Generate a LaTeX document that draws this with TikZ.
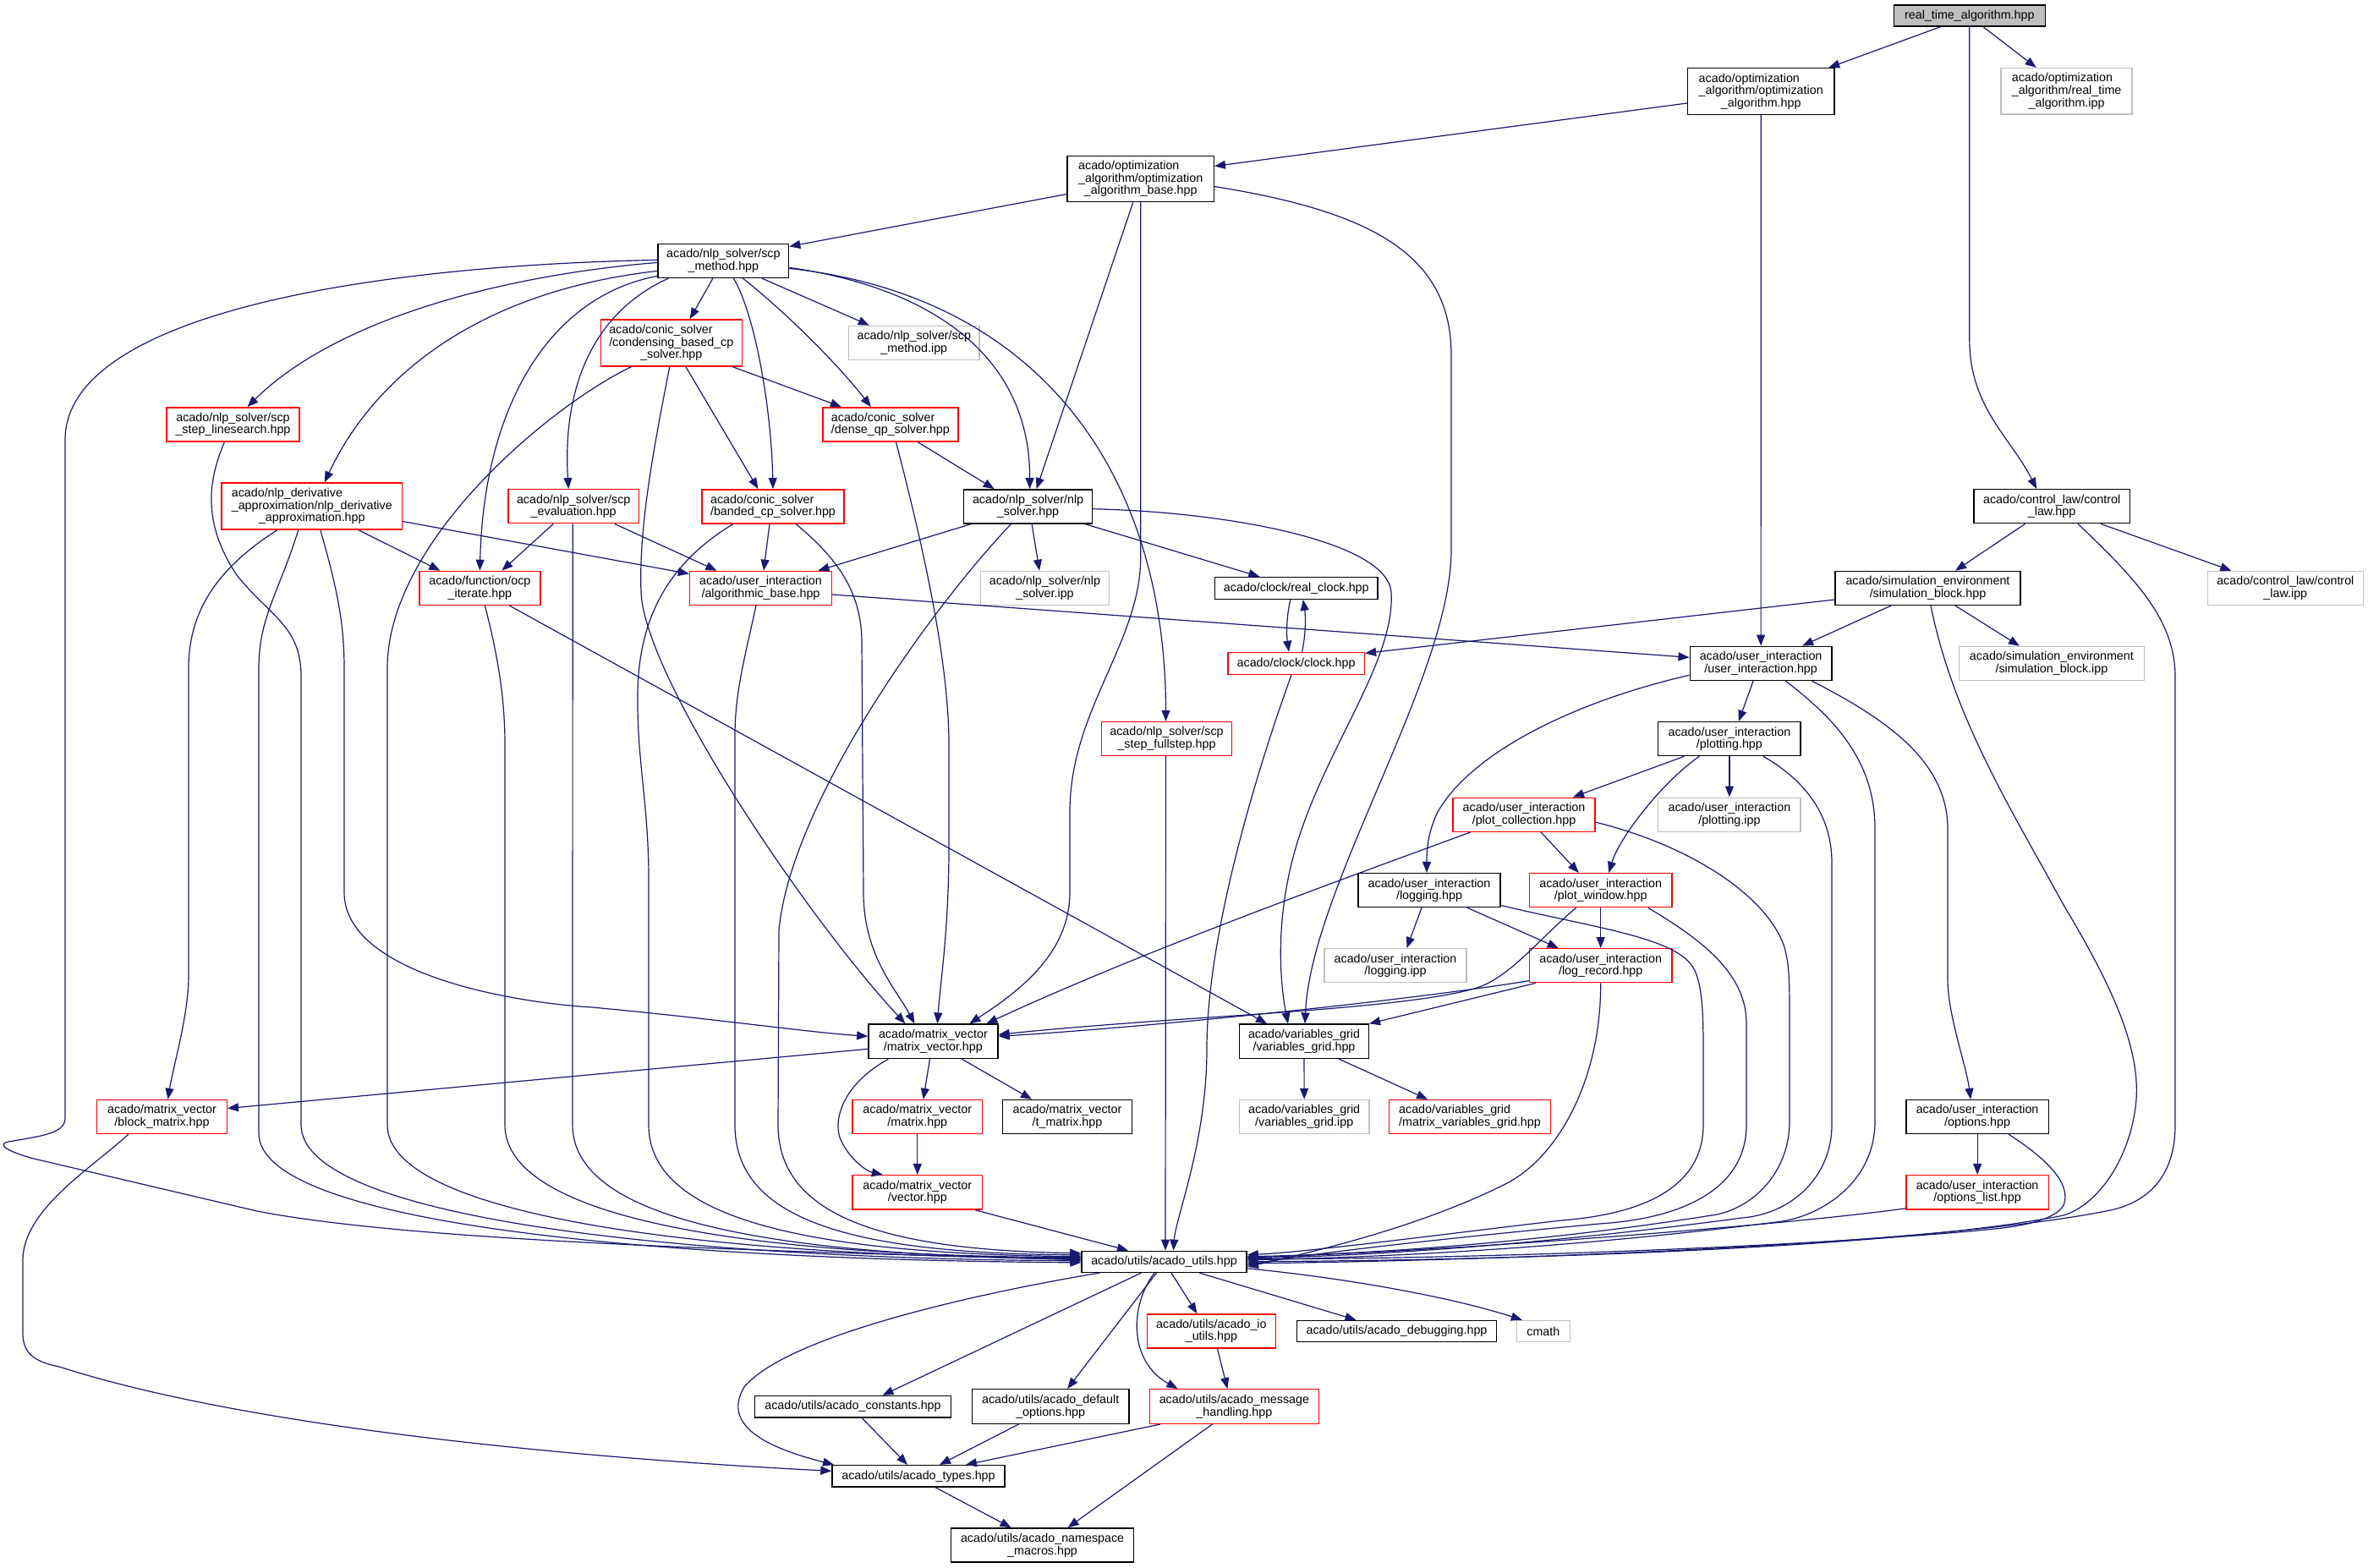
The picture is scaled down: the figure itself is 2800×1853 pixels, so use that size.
\documentclass[tikz,border=0pt]{standalone}
\usepackage{fontspec}
\newfontfamily\dxf{Liberation Sans}
\usetikzlibrary{arrows.meta}
\definecolor{edgec}{RGB}{25,25,112}
\definecolor{gry}{RGB}{191,191,191}
\newcommand\dxfont{\dxf\fontsize{14.3}{14.6}\selectfont}
\newcommand\lftl[2]{\setbox0=\hbox{#2}\makebox[\wd0][l]{#1}\\#2}
\begin{document}
\begin{tikzpicture}[x=1pt,y=-1pt,
  nb/.style={rectangle, inner sep=0pt, line width=1.4pt, font=\dxfont, align=center, fill=white},
  bk/.style={nb, draw=black},
  rd/.style={nb, draw=red},
  gy/.style={nb, draw=gry},
  edg/.style={draw=edgec, line width=1.2pt, -{Triangle[length=13pt,width=10pt]}},
]
\fill[white] (0,0) rectangle (2800,1853);
\useasboundingbox (0,0) rectangle (2800,1853);

% ---------------- nodes ----------------
\node[bk, fill=gry, minimum width=179pt, minimum height=25pt] (rt) at (2328.8,18.4) {real\_time\_algorithm.hpp};
\node[bk, minimum width=173.3pt, minimum height=54.5pt] (oa) at (2082.2,108) {\lftl{acado/optimization}{\_algorithm/optimization}\\\_algorithm.hpp};
\node[gy, minimum width=155pt, minimum height=54.5pt] (rtipp) at (2443.6,107.8) {\lftl{acado/optimization}{\_algorithm/real\_time}\\\_algorithm.ipp};
\node[bk, minimum width=173.2pt, minimum height=54.5pt] (oab) at (1348.7,211.5) {\lftl{acado/optimization}{\_algorithm/optimization}\\\_algorithm\_base.hpp};
\node[bk, minimum width=154.5pt, minimum height=40pt] (scp) at (855.4,308.4) {acado/nlp\_solver/scp\\\_method.hpp};
\node[rd, minimum width=167pt, minimum height=55pt] (cond) at (793.8,405.3) {\lftl{acado/conic\_solver}{/condensing\_based\_cp}\\\_solver.hpp};
\node[gy, minimum width=154.4pt, minimum height=40pt] (scpipp) at (1080.8,405.3) {acado/nlp\_solver/scp\\\_method.ipp};
\node[rd, minimum width=157pt, minimum height=40pt] (ls) at (275.5,501.8) {acado/nlp\_solver/scp\\\_step\_linesearch.hpp};
\node[rd, minimum width=160pt, minimum height=40pt] (dqp) at (1052.9,501.8) {\lftl{acado/conic\_solver}{/dense\_qp\_solver.hpp}};
\node[rd, minimum width=213.3pt, minimum height=55pt] (nd) at (368.8,598.5) {\lftl{acado/nlp\_derivative}{\_approximation/nlp\_derivative}\\\_approximation.hpp};
\node[rd, minimum width=154.5pt, minimum height=40pt] (seval) at (678.2,598.7) {acado/nlp\_solver/scp\\\_evaluation.hpp};
\node[rd, minimum width=168.3pt, minimum height=40pt] (bcp) at (914,598.8) {\lftl{acado/conic\_solver}{/banded\_cp\_solver.hpp}};
\node[bk, minimum width=151.8pt, minimum height=40pt] (nlp) at (1215.6,598.8) {acado/nlp\_solver/nlp\\\_solver.hpp};
\node[bk, minimum width=184.4pt, minimum height=40pt] (cl) at (2426.1,598.7) {acado/control\_law/control\\\_law.hpp};
\node[rd, minimum width=142.8pt, minimum height=40pt] (ocp) at (567.4,695.4) {acado/function/ocp\\\_iterate.hpp};
\node[rd, minimum width=168pt, minimum height=40pt] (ab) at (899.5,695.4) {acado/user\_interaction\\/algorithmic\_base.hpp};
\node[gy, minimum width=152.2pt, minimum height=40pt] (nlpipp) at (1235.5,695.4) {acado/nlp\_solver/nlp\\\_solver.ipp};
\node[bk, minimum width=192.4pt, minimum height=25.7pt] (rc) at (1532.8,695.4) {acado/clock/real\_clock.hpp};
\node[bk, minimum width=218.7pt, minimum height=40pt] (sb) at (2279.5,695.4) {acado/simulation\_environment\\/simulation\_block.hpp};
\node[gy, minimum width=184pt, minimum height=40pt] (clipp) at (2702.3,695.4) {acado/control\_law/control\\\_law.ipp};
\node[rd, minimum width=161.6pt, minimum height=26pt] (clk) at (1532.6,784.4) {acado/clock/clock.hpp};
\node[bk, minimum width=167.8pt, minimum height=40pt] (ui) at (2082.1,784.3) {acado/user\_interaction\\/user\_interaction.hpp};
\node[gy, minimum width=218.8pt, minimum height=40pt] (sbipp) at (2425.9,784.5) {acado/simulation\_environment\\/simulation\_block.ipp};
\node[rd, minimum width=154.5pt, minimum height=40pt] (fs) at (1379.5,873.5) {acado/nlp\_solver/scp\\\_step\_fullstep.hpp};
\node[bk, minimum width=168.3pt, minimum height=40pt] (plt) at (2044.9,873.6) {acado/user\_interaction\\/plotting.hpp};
\node[rd, minimum width=168.3pt, minimum height=40pt] (pc) at (1802,963.2) {acado/user\_interaction\\/plot\_collection.hpp};
\node[gy, minimum width=168.3pt, minimum height=40pt] (pltipp) at (2044.9,963.2) {acado/user\_interaction\\/plotting.ipp};
\node[bk, minimum width=168.3pt, minimum height=40pt] (log) at (1690,1052.6) {acado/user\_interaction\\/logging.hpp};
\node[rd, minimum width=168.3pt, minimum height=40pt] (pw) at (1892.7,1052.6) {acado/user\_interaction\\/plot\_window.hpp};
\node[gy, minimum width=167.8pt, minimum height=40pt] (logipp) at (1650,1141.7) {acado/user\_interaction\\/logging.ipp};
\node[rd, minimum width=168.3pt, minimum height=40pt] (lr) at (1892.7,1141.7) {acado/user\_interaction\\/log\_record.hpp};
\node[bk, minimum width=153.1pt, minimum height=40.5pt] (mv) at (1103.4,1231.3) {acado/matrix\_vector\\/matrix\_vector.hpp};
\node[bk, minimum width=152.7pt, minimum height=40.3pt] (vg) at (1542,1231.2) {acado/variables\_grid\\/variables\_grid.hpp};
\node[rd, minimum width=153.6pt, minimum height=40pt] (bm) at (191.5,1320.5) {acado/matrix\_vector\\/block\_matrix.hpp};
\node[rd, minimum width=153.6pt, minimum height=40pt] (mat) at (1084.8,1320.5) {acado/matrix\_vector\\/matrix.hpp};
\node[bk, minimum width=153.5pt, minimum height=40pt] (tmat) at (1262,1320.5) {acado/matrix\_vector\\/t\_matrix.hpp};
\node[gy, minimum width=153.2pt, minimum height=40pt] (vgipp) at (1542.2,1320.5) {acado/variables\_grid\\/variables\_grid.ipp};
\node[rd, minimum width=191.1pt, minimum height=40pt] (mvg) at (1738,1320.5) {\lftl{acado/variables\_grid}{/matrix\_variables\_grid.hpp}};
\node[bk, minimum width=168.3pt, minimum height=40pt] (opt) at (2338.1,1320.5) {acado/user\_interaction\\/options.hpp};
\node[rd, minimum width=153.6pt, minimum height=40.3pt] (vec) at (1084.8,1409.8) {acado/matrix\_vector\\/vector.hpp};
\node[rd, minimum width=168.3pt, minimum height=40.3pt] (optl) at (2338.1,1409.8) {acado/user\_interaction\\/options\_list.hpp};
\node[bk, minimum width=195pt, minimum height=25pt] (utils) at (1376.5,1491.8) {acado/utils/acado\_utils.hpp};
\node[rd, minimum width=152.2pt, minimum height=40pt] (io) at (1432.4,1573.9) {acado/utils/acado\_io\\\_utils.hpp};
\node[bk, minimum width=236pt, minimum height=25pt] (dbg) at (1651.5,1573.9) {acado/utils/acado\_debugging.hpp};
\node[gy, minimum width=63pt, minimum height=25pt] (cmath) at (1824.8,1573.9) {cmath};
\node[bk, minimum width=232.2pt, minimum height=25.4pt] (const) at (1008.5,1663.2) {acado/utils/acado\_constants.hpp};
\node[bk, minimum width=185.2pt, minimum height=40.6pt] (dopt) at (1242.2,1663) {acado/utils/acado\_default\\\_options.hpp};
\node[rd, minimum width=200pt, minimum height=40.6pt] (mh) at (1459.4,1663) {acado/utils/acado\_message\\\_handling.hpp};
\node[bk, minimum width=204pt, minimum height=25.4pt] (types) at (1086,1745.3) {acado/utils/acado\_types.hpp};
\node[bk, minimum width=216pt, minimum height=40.2pt] (ns) at (1232.6,1827) {acado/utils/acado\_namespace\\\_macros.hpp};

% ---------------- edges ----------------
% real_time_algorithm
\draw[edg] ([xshift=-34pt]rt.south) -- ([xshift=80pt]oa.north);
\draw[edg] ([xshift=16pt]rt.south) -- ([xshift=-36pt]rtipp.north);
\draw[edg] (rt.south) -- ++(0,370) .. controls +(0,80) and +(-30,-60) .. ([xshift=-18pt]cl.north);
% optimization_algorithm
\draw[edg] ([yshift=-14pt]oa.west) -- ([yshift=15pt]oab.east);
\draw[edg] (oa) -- (ui);
% optimization_algorithm_base
\draw[edg] ([yshift=-18pt]oab.west) -- ([yshift=17pt]scp.east);
\draw[edg] ([xshift=-9pt]oab.south) -- ([xshift=10pt]nlp.north);
\draw[edg] (oab.south) -- ++(0,420) .. controls +(0,100) and (1265,840) .. (1265,960) -- (1265,1055) .. controls (1265,1130) and (1200,1175) .. ([xshift=43pt]mv.north);
\draw[edg] ([yshift=-9pt]oab.east) .. controls (1620,250) and (1716,300) .. (1716,420) -- (1716,650) .. controls (1716,800) and (1550,1050) .. ([xshift=1pt]vg.north);
% scp_method
\draw[edg] ([yshift=-2pt]scp.west) .. controls (600,325) and (400,375) .. ([xshift=17pt]ls.north);
\draw[edg] ([yshift=-12pt]scp.west) .. controls (560,345) and (440,450) .. ([xshift=15pt]nd.north);
\draw[edg] ([yshift=-18pt]scp.west) .. controls (650,350) and (572,480) .. (ocp.north);
\draw[edg] ([xshift=-65pt]scp.south) .. controls (700,370) and (665,460) .. ([xshift=-6pt]seval.north);
\draw[edg] ([xshift=-12.5pt]scp.south) -- ([xshift=22pt]cond.north);
\draw[edg] ([xshift=12pt]scp.south) .. controls (892,370) and (912,480) .. (bcp.north);
\draw[edg] ([xshift=23pt]scp.south) .. controls (930,370) and (990,430) .. ([xshift=-23pt]dqp.north);
\draw[edg] ([xshift=45.5pt]scp.south) -- ([xshift=-53pt]scpipp.north);
\draw[edg] ([yshift=-8pt]scp.east) .. controls (1100,340) and (1218,420) .. ([xshift=2pt]nlp.north);
\draw[edg] ([yshift=-9pt]scp.east) .. controls (1230,350) and (1378,560) .. ([xshift=-1pt]fs.north);
\draw[edg] ([yshift=1pt]scp.west) .. controls (400,315) and (77,380) .. (77,520) -- (77,1322) .. controls (77,1340) and (50,1343) .. (10,1350) .. controls (-5,1353) and (10,1362) .. (40,1370) -- (304,1432) .. controls (500,1470) and (950,1480) .. ([yshift=2pt]utils.west);
% linesearch
\draw[edg] ([xshift=-10pt]ls.south) .. controls (245,570) and (240,620) .. (280,680) .. controls (320,730) and (356,740) .. (356,800) -- (356,1330) .. controls (356,1440) and (800,1488) .. ([yshift=1pt]utils.west);
% nlp_derivative_approximation
\draw[edg] ([xshift=-16pt]nd.south) .. controls (330,700) and (306,730) .. (306,790) -- (306,1340) .. controls (306,1450) and (800,1490) .. ([yshift=-1pt]utils.west);
\draw[edg] ([xshift=-41pt]nd.south) .. controls (260,670) and (223,720) .. (223,790) -- (223,1154) .. controls (223,1200) and (205,1260) .. ([xshift=7pt]bm.north);
\draw[edg] ([xshift=10pt]nd.south) .. controls (400,700) and (407,740) .. (407,790) -- (407,1055) .. controls (407,1150) and (600,1185) .. (700,1191) .. controls (850,1205) and (950,1220) .. ([yshift=6pt]mv.west);
\draw[edg] ([xshift=55pt]nd.south) -- ([xshift=-47pt]ocp.north);
\draw[edg] ([yshift=-18pt]nd.east) -- ([yshift=17pt]ab.west);
% scp_evaluation
\draw[edg] ([xshift=-24pt]seval.south) -- ([xshift=26pt]ocp.north);
\draw[edg] ([xshift=48.5pt]seval.south) -- ([xshift=-52pt]ab.north);
\draw[edg] ([xshift=-1pt]seval.south) -- (677,1330) .. controls (677,1440) and (900,1484) .. ([yshift=3pt]utils.west);
% condensing
\draw[edg] ([xshift=-47pt]cond.south) .. controls (650,480) and (458,640) .. (458,790) -- (458,1330) .. controls (458,1440) and (850,1486) .. ([yshift=4pt]utils.west);
\draw[edg] ([xshift=-2pt]cond.south) .. controls (775,520) and (755,620) .. (758,700) .. controls (762,800) and (950,1080) .. ([xshift=-33pt]mv.north);
\draw[edg] ([xshift=72pt]cond.south) -- ([xshift=-58pt]dqp.north);
\draw[edg] ([xshift=17pt]cond.south) -- ([xshift=-17.6pt]bcp.north);
% banded
\draw[edg] ([xshift=-4pt]bcp.south) -- ([xshift=3.5pt]ab.north);
\draw[edg] ([xshift=-47pt]bcp.south) .. controls (800,660) and (755,720) .. (754,820) .. controls (753,900) and (767,950) .. (767,1040) -- (767,1330) .. controls (767,1440) and (950,1482) .. ([yshift=6pt]utils.west);
\draw[edg] ([xshift=27pt]bcp.south) .. controls (990,660) and (1019,700) .. (1019,760) -- (1021,1055) .. controls (1021,1130) and (1060,1170) .. ([xshift=-22pt]mv.north);
% dense_qp
\draw[edg] ([xshift=32pt]dqp.south) -- ([xshift=-40pt]nlp.north);
\draw[edg] ([xshift=6.5pt]dqp.south) .. controls (1090,640) and (1122,780) .. (1122,880) -- (1122,1000) .. controls (1122,1100) and (1112,1160) .. ([xshift=5pt]mv.north);
% ocp_iterate
\draw[edg] ([xshift=6pt]ocp.south) .. controls (590,780) and (597,830) .. (597,880) -- (597,1330) .. controls (597,1440) and (880,1485) .. ([yshift=5pt]utils.west);
\draw[edg] ([xshift=35pt]ocp.south) -- ([xshift=-44pt]vg.north);
% algorithmic_base
\draw[edg] ([yshift=-7.6pt]ab.east) -- ([yshift=7pt]ui.west);
\draw[edg] ([xshift=-5.5pt]ab.south) .. controls (880,780) and (869,820) .. (869,870) -- (869,1330) .. controls (869,1440) and (1000,1482) .. ([yshift=8pt]utils.west);
% nlp_solver
\draw[edg] ([xshift=-67pt]nlp.south) -- ([xshift=68pt]ab.north);
\draw[edg] ([xshift=4.5pt]nlp.south) -- ([xshift=-6.5pt]nlpipp.north);
\draw[edg] ([xshift=67pt]nlp.south) -- ([xshift=-43.5pt]rc.north);
\draw[edg] ([yshift=-3pt]nlp.east) .. controls (1450,605) and (1640,640) .. (1645,700) .. controls (1650,780) and (1570,880) .. (1534,996) .. controls (1505,1090) and (1515,1170) .. ([xshift=-19pt]vg.north);
\draw[edg] ([xshift=-20pt]nlp.south) .. controls (1100,720) and (935,950) .. (921,1100) -- (920,1330) .. controls (920,1440) and (1050,1478) .. ([yshift=10pt]utils.west);
% clocks
\draw[edg] ([xshift=-7pt]rc.south) .. controls (1521,730) and (1521,750) .. ([xshift=-8.6pt]clk.north);
\draw[edg] ([xshift=7pt]clk.north) .. controls (1544,750) and (1544,730) .. ([xshift=8pt]rc.south);
\draw[edg] ([xshift=-5.6pt]clk.south) .. controls (1490,900) and (1427,1100) .. (1427,1240) .. controls (1427,1350) and (1390,1440) .. ([xshift=11pt]utils.north);
% control_law
\draw[edg] ([xshift=-31.5pt]cl.south) -- ([xshift=32.6pt]sb.north);
\draw[edg] ([xshift=58pt]cl.south) -- ([xshift=-64pt]clipp.north);
\draw[edg] ([xshift=31pt]cl.south) .. controls (2520,680) and (2572,730) .. (2572,800) -- (2572,1330) .. controls (2572,1400) and (2530,1425) .. (2490,1432) .. controls (2300,1470) and (1800,1490) .. ([yshift=-2pt]utils.east);
% simulation_block
\draw[edg] ([yshift=-13.6pt]sb.west) -- ([yshift=12pt]clk.east);
\draw[edg] ([xshift=-43.5pt]sb.south) -- ([xshift=49pt]ui.north);
\draw[edg] ([xshift=32.5pt]sb.south) -- ([xshift=-38pt]sbipp.north);
\draw[edg] ([xshift=3.5pt]sb.south) .. controls (2310,850) and (2380,960) .. (2440,1070) .. controls (2500,1170) and (2530,1240) .. (2526,1300) .. controls (2520,1370) and (2480,1425) .. (2440,1437) .. controls (2250,1475) and (1800,1490) .. (utils.east);
% user_interaction
\draw[edg] ([xshift=-9pt]ui.south) -- ([xshift=11pt]plt.north);
\draw[edg] ([yshift=-14pt]ui.west) .. controls (1860,830) and (1740,890) .. (1700,960) .. controls (1688,985) and (1687,1005) .. ([xshift=-3pt]log.north);
\draw[edg] ([xshift=29pt]ui.south) .. controls (2170,850) and (2217,900) .. (2217,980) -- (2217,1326) .. controls (2217,1400) and (2150,1440) .. (2100,1445) .. controls (1900,1470) and (1700,1485) .. ([yshift=2pt]utils.east);
\draw[edg] ([xshift=60pt]ui.south) .. controls (2230,850) and (2303,900) .. (2303,980) -- (2303,1158) .. controls (2303,1200) and (2325,1260) .. ([xshift=-8pt]opt.north);
% plotting
\draw[edg] ([xshift=-53.4pt]plt.south) -- ([xshift=58pt]pc.north);
\draw[edg] (plt) -- (pltipp);
\draw[edg] ([xshift=-35.5pt]plt.south) .. controls (1965,925) and (1915,990) .. ([xshift=9.5pt]pw.north);
\draw[edg] ([xshift=40pt]plt.south) .. controls (2130,920) and (2166,960) .. (2166,1020) -- (2166,1330) .. controls (2166,1390) and (2120,1435) .. (2060,1440) .. controls (1850,1468) and (1650,1484) .. ([yshift=4pt]utils.east);
% plot_collection
\draw[edg] ([xshift=20pt]pc.south) -- ([xshift=-26pt]pw.north);
\draw[edg] ([xshift=-63pt]pc.south) .. controls (1600,1035) and (1350,1125) .. ([xshift=63pt]mv.north);
\draw[edg] ([yshift=-9pt]pc.east) .. controls (2000,1000) and (2090,1060) .. (2110,1120) .. controls (2115,1140) and (2116,1150) .. (2116,1200) -- (2116,1326) .. controls (2116,1380) and (2080,1425) .. (2030,1436) .. controls (1850,1465) and (1650,1482) .. ([yshift=6pt]utils.east);
% logging
\draw[edg] ([xshift=-9pt]log.south) -- ([xshift=13.4pt]logipp.north);
\draw[edg] ([xshift=45pt]log.south) -- ([xshift=-50pt]lr.north);
\draw[edg] ([yshift=-18pt]log.east) .. controls (1900,1100) and (1990,1110) .. (2005,1150) .. controls (2013,1170) and (2014,1200) .. (2014,1240) -- (2014,1330) .. controls (2014,1400) and (1950,1435) .. (1846,1443) .. controls (1700,1460) and (1550,1480) .. ([yshift=8pt]utils.east);
% plot_window
\draw[edg] (pw) -- (lr);
\draw[edg] ([xshift=-29pt]pw.south) .. controls (1820,1110) and (1790,1150) .. (1752,1166) .. controls (1700,1185) and (1550,1195) .. (1400,1205) .. controls (1300,1212) and (1230,1218) .. ([yshift=8pt]mv.east);
\draw[edg] ([xshift=56pt]pw.south) .. controls (2010,1110) and (2065,1150) .. (2065,1210) -- (2065,1330) .. controls (2065,1400) and (2000,1440) .. (1891,1447) .. controls (1700,1465) and (1550,1482) .. ([yshift=-4pt]utils.east);
% log_record
\draw[edg] ([yshift=-18pt]lr.west) .. controls (1650,1185) and (1350,1215) .. ([yshift=6pt]mv.east);
\draw[edg] ([xshift=-77pt]lr.south) -- (vg.north east);
\draw[edg] (lr.south) .. controls (1893,1280) and (1840,1370) .. (1780,1400) .. controls (1700,1440) and (1600,1470) .. ([yshift=-6pt]utils.east);
% variables_grid
\draw[edg] (vg) -- (vgipp);
\draw[edg] ([xshift=41pt]vg.south) -- ([xshift=-50pt]mvg.north);
% matrix_vector
\draw[edg] ([yshift=-9pt]mv.west) -- ([yshift=10pt]bm.east);
\draw[edg] ([xshift=-4pt]mv.south) -- ([xshift=7pt]mat.north);
\draw[edg] ([xshift=34pt]mv.south) -- ([xshift=-42pt]tmat.north);
\draw[edg] ([xshift=-53pt]mv.south) .. controls (1000,1280) and (985,1320) .. (993,1345) .. controls (1003,1370) and (1025,1385) .. ([xshift=-41pt]vec.north);
\draw[edg] (mat) -- (vec);
\draw[edg] ([xshift=68pt]vec.south) -- ([xshift=-42.5pt]utils.north);
\draw[edg] ([xshift=-1pt]fs.south) -- ([xshift=1.5pt]utils.north);
% options
\draw[edg] (opt) -- (optl);
\draw[edg] ([xshift=37pt]opt.south) .. controls (2420,1370) and (2450,1400) .. (2440,1425) .. controls (2432,1440) and (2400,1448) .. (2368,1452) .. controls (2200,1470) and (1800,1488) .. ([yshift=3pt]utils.east);
\draw[edg] ([yshift=-19pt]optl.west) .. controls (2100,1450) and (1700,1480) .. ([yshift=5pt]utils.east);
% acado_utils
\draw[edg] ([xshift=-76pt]utils.south) .. controls (1150,1530) and (930,1580) .. (880,1640) .. controls (850,1690) and (920,1715) .. ([xshift=-100pt]types.north);
\draw[edg] ([xshift=-27pt]utils.south) -- ([xshift=35pt]const.north);
\draw[edg] ([xshift=-9pt]utils.south) -- ([xshift=20pt]dopt.north);
\draw[edg] ([xshift=-11.5pt]utils.south) .. controls (1335,1545) and (1335,1610) .. ([xshift=-67pt]mh.north);
\draw[edg] ([xshift=8.5pt]utils.south) -- ([xshift=-17pt]io.north);
\draw[edg] ([xshift=41.5pt]utils.south) -- ([xshift=-48pt]dbg.north);
\draw[edg] ([yshift=-8pt]utils.east) .. controls (1600,1512) and (1720,1535) .. ([xshift=-25pt]cmath.north);
% lower utils
\draw[edg] ([xshift=7pt]io.south) -- ([xshift=-8pt]mh.north);
\draw[edg] ([xshift=10.7pt]const.south) -- ([xshift=-13pt]types.north);
\draw[edg] ([xshift=-37.7pt]dopt.south) -- ([xshift=25pt]types.north);
\draw[edg] ([xshift=-87.5pt]mh.south) -- ([xshift=56pt]types.north);
\draw[edg] ([xshift=-26pt]mh.south) -- ([xshift=30pt]ns.north);
\draw[edg] ([xshift=20pt]types.south) -- ([xshift=-37pt]ns.north);
\draw[edg] ([xshift=-39.7pt]bm.south) .. controls (110,1380) and (27,1430) .. (27,1490) -- (27,1576) .. controls (27,1600) and (40,1610) .. (70,1616) .. controls (300,1690) and (700,1725) .. ([yshift=6pt]types.west);
\end{tikzpicture}
\end{document}
